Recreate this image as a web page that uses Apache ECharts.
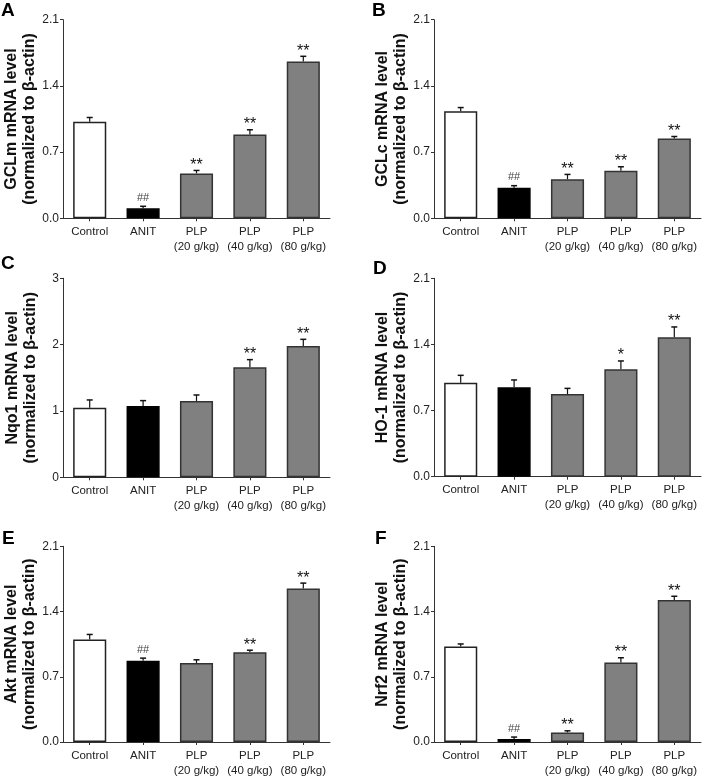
<!DOCTYPE html>
<html>
<head>
<meta charset="utf-8">
<script src="https://cdn.jsdelivr.net/npm/echarts@6/dist/echarts.min.js"></script>
<style>
html,body{margin:0;padding:0;background:#fff;}
#chart{width:702px;height:778px;}
</style>
</head>
<body>
<div id="chart"></div>
<script>
// ---- data ----
const categories = ['Control', 'ANIT', 'PLP\n(20 g/kg)', 'PLP\n(40 g/kg)', 'PLP\n(80 g/kg)'];
const panelLetters = ['A', 'B', 'C', 'D', 'E', 'F'];
const genes = ['GCLm', 'GCLc', 'Nqo1', 'HO-1', 'Akt', 'Nrf2'];
const yMaxes = [2.1, 2.1, 3, 2.1, 2.1, 2.1];
const yIntervals = [0.7, 0.7, 1, 0.7, 0.7, 0.7];

const meansA = [1.02, 0.105, 0.475, 0.886, 1.657];
const errA   = [0.046, 0.022, 0.031, 0.050, 0.056];
const marksA = ['', '##', '**', '**', '**'];

const meansB = [1.133, 0.324, 0.412, 0.503, 0.844];
const errB   = [0.038, 0.021, 0.052, 0.042, 0.021];
const marksB = ['', '##', '**', '**', '**'];

const meansC = [1.05, 1.075, 1.151, 1.658, 1.98];
const errC   = [0.116, 0.081, 0.090, 0.116, 0.100];
const marksC = ['', '', '', '**', '**'];

const meansD = [0.995, 0.946, 0.875, 1.137, 1.475];
const errD   = [0.078, 0.078, 0.060, 0.088, 0.110];
const marksD = ['', '', '', '*', '**'];

const meansE = [1.101, 0.872, 0.847, 0.964, 1.648];
const errE   = [0.053, 0.028, 0.035, 0.021, 0.057];
const marksE = ['', '##', '', '**', '**'];

const meansF = [1.024, 0.032, 0.102, 0.854, 1.525];
const errF   = [0.028, 0.021, 0.018, 0.050, 0.039];
const marksF = ['', '##', '**', '**', '**'];

const allMeans = [meansA, meansB, meansC, meansD, meansE, meansF];
const allErr = [errA, errB, errC, errD, errE, errF];
const allMarks = [marksA, marksB, marksC, marksD, marksE, marksF];

// ---- layout ----
const gridBoxes = [
  {l: 63, r: 330, t: 19.7, b: 218.3},
  {l: 434, r: 701, t: 19.7, b: 218.3},
  {l: 63, r: 330, t: 278.3, b: 477.3},
  {l: 434, r: 701, t: 278.3, b: 476.7},
  {l: 63, r: 330, t: 546.3, b: 744.7},
  {l: 434, r: 701, t: 546.3, b: 744.7}
];
const letterPos = [[1, 1], [372, 1], [1, 254], [373, 259], [2, 529], [375, 529]];

const FONT = '"Liberation Sans", Arial, sans-serif';
const AX = '#333';
const barColors = ['#ffffff', '#000000', '#808080', '#808080', '#808080'];
const barBorders = ['#222222', '#000000', '#333333', '#333333', '#333333'];

const grid = [], xAxis = [], yAxis = [], series = [], graphic = [];
gridBoxes.forEach((g, k) => {
  grid.push({left: g.l, width: g.r - g.l, top: g.t, height: g.b - g.t, containLabel: false});
  xAxis.push({
    type: 'category', gridIndex: k, data: categories,
    axisLine: {lineStyle: {color: AX, width: 1}},
    axisTick: {show: true, alignWithLabel: true, length: 3, lineStyle: {color: AX}},
    axisLabel: {color: '#222', fontFamily: FONT, fontSize: 11.5, lineHeight: 15, margin: 6, interval: 0}
  });
  const yMax = yMaxes[k], yInt = yIntervals[k];
  yAxis.push({
    type: 'value', gridIndex: k, min: 0, max: yMax, interval: yInt,
    splitLine: {show: false},
    axisLine: {show: true, lineStyle: {color: AX, width: 1}},
    axisTick: {show: true, length: 3, lineStyle: {color: AX}},
    axisLabel: {color: '#222', fontFamily: FONT, fontSize: 12, margin: 4,
      formatter: v => yInt < 1 ? v.toFixed(1) : String(Math.round(v))},
    name: genes[k] + ' mRNA level\n(normalized to β-actin)',
    nameLocation: 'middle', nameRotate: 90, nameGap: 23,
    nameTextStyle: {fontFamily: FONT, fontSize: 16, fontWeight: 'bold', color: '#111', lineHeight: 18}
  });
  const means = allMeans[k], errs = allErr[k], marks = allMarks[k];
  series.push({
    type: 'bar', xAxisIndex: k, yAxisIndex: k, barWidth: '62%',
    data: means.map((v, i) => ({value: v, itemStyle: {color: barColors[i], borderColor: barBorders[i], borderWidth: 1.5}})),
    silent: true, animation: false
  });
  series.push({
    type: 'custom', xAxisIndex: k, yAxisIndex: k, animation: false, silent: true,
    data: means.map((v, i) => [i, v, v + errs[i]]),
    encode: {x: 0, y: [1, 2]},
    renderItem: (params, api) => {
      const i = api.value(0);
      const p0 = api.coord([i, api.value(1)]);
      const p1 = api.coord([i, api.value(2)]);
      const ch = [];
      ch.push({type: 'line', shape: {x1: p0[0], y1: p0[1], x2: p1[0], y2: p1[1]}, style: {stroke: '#111', lineWidth: 1.2}});
      ch.push({type: 'line', shape: {x1: p1[0] - 3, y1: p1[1], x2: p1[0] + 3, y2: p1[1]}, style: {stroke: '#111', lineWidth: 1.5}});
      const m = marks[i];
      if (m) {
        const isHash = m.indexOf('#') >= 0;
        ch.push({type: 'text', x: p1[0], y: isHash ? p1[1] - 3 : p1[1] + 3,
          style: {text: m, fill: isHash ? '#444' : '#111', font: (isHash ? '11px ' : '16px ') + FONT,
            align: 'center', verticalAlign: 'bottom'}});
      }
      return {type: 'group', children: ch};
    }
  });
  graphic.push({type: 'text', left: letterPos[k][0], top: letterPos[k][1],
    style: {text: panelLetters[k], font: 'bold 19px ' + FONT, fill: '#000'}});
});

const chart = echarts.init(document.getElementById('chart'), null, {renderer: 'canvas'});
chart.setOption({backgroundColor: '#fff', animation: false, grid, xAxis, yAxis, series, graphic});
</script>
</body>
</html>
